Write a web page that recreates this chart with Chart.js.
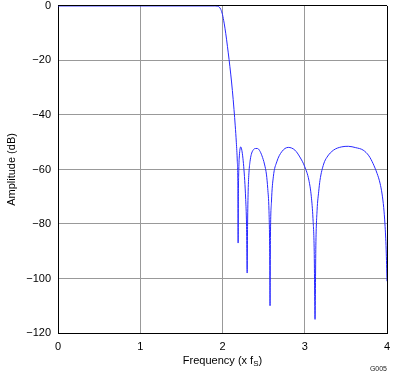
<!DOCTYPE html>
<html>
<head>
<meta charset="utf-8">
<script src="https://cdn.jsdelivr.net/npm/chart.js@4"></script>
<style>
  html, body { margin: 0; padding: 0; background: #fff; }
  #wrap { width: 402px; height: 377px; position: relative; overflow: hidden; }
  #inner { position: absolute; left: 0; top: -6px; width: 402px; height: 383px; }
</style>
</head>
<body>
<div id="wrap"><div id="inner"><canvas id="filterChart"></canvas></div></div>
<script>
// frequency in multiples of fS, amplitude in dB
const freq = [
    0, 1.9, 1.94, 1.96, 1.98, 2.0, 2.02, 2.04, 2.06, 2.08, 2.1, 2.12, 2.14, 2.155, 2.168, 2.18, 2.187, 2.19,
    2.193, 2.198, 2.205, 2.213, 2.222, 2.232, 2.245, 2.258, 2.27, 2.282, 2.292, 2.3,
    2.305, 2.312, 2.322, 2.335, 2.35, 2.37, 2.4, 2.425, 2.45, 2.48, 2.51, 2.535, 2.55, 2.565, 2.573, 2.578,
    2.583, 2.595, 2.618, 2.66, 2.72, 2.8, 2.88, 2.94, 3.0, 3.05, 3.08, 3.1, 3.115, 3.125,
    3.135, 3.15, 3.17, 3.185, 3.23, 3.27, 3.35, 3.45, 3.53, 3.62, 3.71, 3.78, 3.83, 3.88, 3.915, 3.94, 3.96, 3.975, 3.99, 4.0
];
const amplitude = [
    0, 0, -0.1, -0.4, -1.3, -3.2, -6.3, -10.2, -14.8, -19.7, -25, -31, -38, -44, -50, -57, -66, -87,
    -70, -60, -55, -52.5, -51.7, -52.5, -55, -59, -64, -71, -80, -98,
    -80, -68, -61, -57, -54.5, -53, -52.3, -52.3, -53, -55, -58, -62, -67, -75, -88, -110,
    -85, -72, -62.7, -57.2, -53.5, -51.9, -52.9, -55.4, -59, -63.9, -70, -78, -90, -115,
    -88, -75, -68, -64, -58, -55.5, -52.9, -51.7, -51.5, -52, -52.9, -55, -57.8, -61.5, -65, -69, -74, -80, -89.5, -101
];
const xTicks = [0, 1, 2, 3, 4];
const yTicks = [0, -20, -40, -60, -80, -100, -120];

const points = freq.map((f, i) => ({ x: f, y: amplitude[i] }));
const fontFamily = '"Liberation Sans", Arial, sans-serif';
const shift = 6; // canvas is moved up by this much

// x axis title with subscript S and the small figure id
const extraText = {
    id: 'extraText',
    afterDraw(chart) {
        const ctx = chart.ctx;
        const area = chart.chartArea;
        const cx = (area.left + area.right) / 2;
        const y = 361 + shift;
        ctx.save();
        ctx.fillStyle = '#000';
        ctx.textBaseline = 'middle';
        const a = 'Frequency (x f';
        ctx.font = '8px ' + fontFamily;
        const wS = ctx.measureText('S').width;
        ctx.font = '11px ' + fontFamily;
        const wA = ctx.measureText(a).width;
        const wB = ctx.measureText(')').width;
        let x = cx - (wA + wS + wB) / 2;
        ctx.textAlign = 'left';
        ctx.fillText(a, x, y);
        x += wA;
        ctx.font = '8px ' + fontFamily;
        ctx.fillText('S', x, y + 3);
        x += wS;
        ctx.font = '11px ' + fontFamily;
        ctx.fillText(')', x, y);

        ctx.font = '7px ' + fontFamily;
        ctx.textAlign = 'right';
        ctx.fillStyle = '#222';
        ctx.fillText('G005', 387, 369 + shift);
        ctx.restore();
    }
};

new Chart(document.getElementById('filterChart'), {
    type: 'line',
    data: {
        datasets: [{
            data: points,
            borderColor: 'rgb(40, 40, 255)',
            borderWidth: 1,
            pointRadius: 0,
            fill: false,
            cubicInterpolationMode: 'monotone'
        }]
    },
    options: {
        responsive: true,
        maintainAspectRatio: false,
        animation: false,
        layout: { padding: { top: 0, right: 15, left: 0, bottom: 0 } },
        plugins: { legend: { display: false }, tooltip: { enabled: false } },
        scales: {
            x: {
                type: 'linear',
                min: 0,
                max: 4,
                afterBuildTicks: (axis) => { axis.ticks = xTicks.map(v => ({ value: v })); },
                ticks: { color: '#000', font: { family: fontFamily, size: 11 }, padding: 7, maxRotation: 0 },
                grid: {
                    color: (c) => c.tick && c.tick.value === 4 ? '#000' : '#999',
                    lineWidth: 1,
                    drawTicks: false
                },
                border: { color: '#000', width: 1 },
                afterFit: (axis) => { axis.height = 44; }
            },
            y: {
                min: -120,
                max: 0,
                afterBuildTicks: (axis) => { axis.ticks = yTicks.map(v => ({ value: v })); },
                ticks: {
                    color: '#000',
                    font: { family: fontFamily, size: 11, lineHeight: 0.9 },
                    padding: 7,
                    callback: (v) => String(v).replace('-', '\u2212')
                },
                grid: {
                    color: (c) => c.tick && c.tick.value === 0 ? '#000' : '#999',
                    lineWidth: 1,
                    drawTicks: false
                },
                border: { color: '#000', width: 1 },
                title: {
                    display: true,
                    text: 'Amplitude (dB)',
                    color: '#000',
                    font: { family: fontFamily, size: 11 },
                    padding: { top: 5, bottom: 0 }
                },
                afterFit: (axis) => { axis.width = 58; }
            }
        }
    },
    plugins: [extraText]
});
</script>
</body>
</html>
